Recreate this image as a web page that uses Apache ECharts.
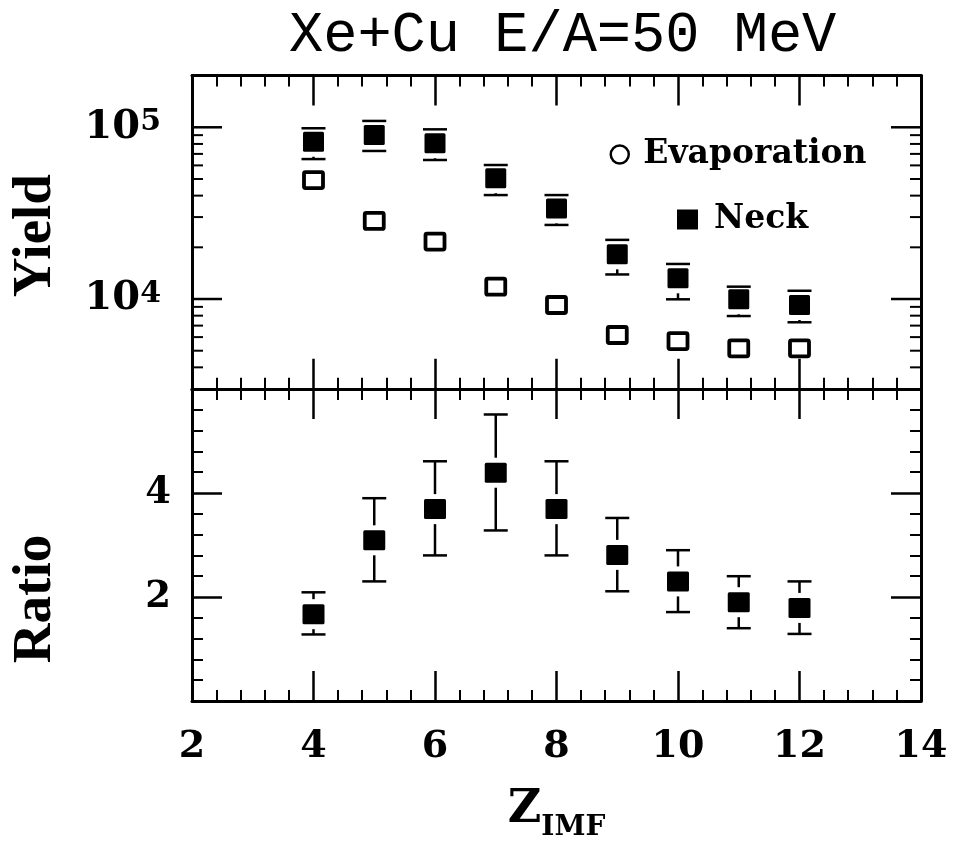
<!DOCTYPE html>
<html>
<head>
<meta charset="utf-8">
<script src="https://cdn.jsdelivr.net/npm/echarts@6/dist/echarts.min.js"></script>
<style>
  html, body { margin: 0; padding: 0; background: #fff; }
  #chart { width: 953px; height: 843px; }
</style>
</head>
<body>
<div id="chart"></div>
<script>
// IMF charge number
const zValues = [4, 5, 6, 7, 8, 9, 10, 11, 12];

// Neck emission yields with error-bar limits
const neckYield     = [82400, 90200, 80700, 50500, 33700, 18200, 13200, 9960, 9230];
const neckYieldLow  = [65300, 72800, 64500, 40300, 27000, 13900, 9960, 7960, 7320];
const neckYieldHigh = [98700, 108900, 97300, 60300, 40300, 22100, 16000, 11800, 11170];

// Evaporation yields
const evapYield = [49300, 28500, 21600, 11800, 9230, 6170, 5690, 5160, 5160];

// Neck / evaporation ratio with error-bar limits
const ratio     = [1.67, 3.09, 3.69, 4.39, 3.69, 2.81, 2.30, 1.90, 1.79];
const ratioLow  = [1.28, 2.30, 2.80, 3.28, 2.80, 2.11, 1.71, 1.40, 1.29];
const ratioHigh = [2.09, 3.90, 4.61, 5.51, 4.61, 3.52, 2.90, 2.40, 2.30];

// Axis ranges and tick labels
const xRange = [2, 14];
const xTickLabels = [2, 4, 6, 8, 10, 12, 14];
const yieldRange = [3000, 200000];
const yieldExponents = [4, 5];
const yieldMajorTicks = [10000, 100000];
const yieldMinorTicks = [4000, 5000, 6000, 7000, 8000, 9000,
                         20000, 30000, 40000, 50000, 60000, 70000, 80000, 90000];
const ratioRange = [0, 6];
const ratioTickLabels = [2, 4];

const SERIF = 'DejaVu Serif';
const BLACK = '#000';

const chart = echarts.init(document.getElementById('chart'), null, { renderer: 'canvas' });

function xAxisDef(gridIndex, position, showLabels, extra) {
  return Object.assign({
    type: 'value', gridIndex, position,
    min: xRange[0], max: xRange[1], interval: 2,
    axisLine: { show: true, onZero: false, lineStyle: { color: BLACK, width: 3 } },
    axisTick: { show: true, inside: true, length: 30, lineStyle: { color: BLACK, width: 2.5 } },
    minorTick: { show: true, splitNumber: 5, length: 11, lineStyle: { color: BLACK, width: 2 } },
    splitLine: { show: false }, minorSplitLine: { show: false },
    axisLabel: {
      show: showLabels, margin: 27, color: BLACK, fontFamily: SERIF, fontWeight: 'bold', fontSize: 38,
      formatter: v => xTickLabels.includes(v) ? String(v) : ''
    }
  }, extra || {});
}

function logAxisDef(position, showLabels, extra) {
  return Object.assign({
    type: 'log', logBase: 10, gridIndex: 0, position,
    min: yieldRange[0], max: yieldRange[1],
    axisLine: { show: true, onZero: false, lineStyle: { color: BLACK, width: 3 } },
    axisTick: { show: false }, minorTick: { show: false },
    splitLine: { show: false }, minorSplitLine: { show: false },
    axisLabel: {
      show: showLabels, margin: 31, color: BLACK,
      formatter: v => {
        const e = Math.round(Math.log10(v));
        return (Math.abs(Math.log10(v) - e) < 1e-6 && yieldExponents.includes(e)) ? '{b|10}{s|' + e + '}' : '';
      },
      rich: {
        b: { fontFamily: SERIF, fontWeight: 'bold', fontSize: 40, lineHeight: 40, verticalAlign: 'bottom', padding: [10, 0, 0, 0], color: BLACK },
        s: { fontFamily: SERIF, fontWeight: 'bold', fontSize: 30, lineHeight: 30, verticalAlign: 'top', color: BLACK }
      }
    }
  }, extra || {});
}

function ratioAxisDef(position, showLabels, extra) {
  return Object.assign({
    type: 'value', gridIndex: 1, position,
    min: ratioRange[0], max: ratioRange[1], interval: 2,
    axisLine: { show: true, onZero: false, lineStyle: { color: BLACK, width: 3 } },
    axisTick: { show: true, inside: true, length: 30, lineStyle: { color: BLACK, width: 2.5 } },
    minorTick: { show: true, splitNumber: 5, length: 11, lineStyle: { color: BLACK, width: 2 } },
    splitLine: { show: false }, minorSplitLine: { show: false },
    axisLabel: {
      show: showLabels, margin: 21, color: BLACK, fontFamily: SERIF, fontWeight: 'bold', fontSize: 37,
      formatter: v => ratioTickLabels.includes(v) ? String(v) : ''
    }
  }, extra || {});
}

// Filled square with vertical error bar; the bar stops short of the marker
function filledWithBars(hw, hh) {
  return function (params, api) {
    const x = api.value(0), v = api.value(1), lo = api.value(2), hi = api.value(3);
    const c = api.coord([x, v]);
    const yHi = api.coord([x, hi])[1];
    const yLo = api.coord([x, lo])[1];
    const cap = 12, gap = 5;
    const st = { stroke: BLACK, lineWidth: 2.5 };
    const children = [
      { type: 'line', shape: { x1: c[0] - cap, y1: yHi, x2: c[0] + cap, y2: yHi }, style: st },
      { type: 'line', shape: { x1: c[0] - cap, y1: yLo, x2: c[0] + cap, y2: yLo }, style: st }
    ];
    if (yHi < c[1] - hh - gap) {
      children.push({ type: 'line', shape: { x1: c[0], y1: yHi, x2: c[0], y2: c[1] - hh - gap }, style: st });
    }
    if (yLo > c[1] + hh + gap) {
      children.push({ type: 'line', shape: { x1: c[0], y1: c[1] + hh + gap, x2: c[0], y2: yLo }, style: st });
    }
    children.push({ type: 'rect', shape: { x: c[0] - hw, y: c[1] - hh, width: 2 * hw, height: 2 * hh, r: 1.5 }, style: { fill: BLACK } });
    return { type: 'group', children };
  };
}

function openSquare(params, api) {
  const c = api.coord([api.value(0), api.value(1)]);
  return {
    type: 'rect',
    shape: { x: c[0] - 9.5, y: c[1] - 8, width: 19, height: 16, r: 1.5 },
    style: { fill: '#fff', stroke: BLACK, lineWidth: 3.8 }
  };
}

// Inward ticks of the logarithmic yield axis, on both the left and right frame
function logTicks(params, api) {
  const v = api.value(1), major = api.value(2) === 1;
  const pl = api.coord([xRange[0], v]);
  const pr = api.coord([xRange[1], v]);
  const len = major ? 30 : 11;
  const st = { stroke: BLACK, lineWidth: major ? 2.5 : 2 };
  return {
    type: 'group',
    children: [
      { type: 'line', shape: { x1: pl[0], y1: pl[1], x2: pl[0] + len, y2: pl[1] }, style: st },
      { type: 'line', shape: { x1: pr[0] - len, y1: pr[1], x2: pr[0], y2: pr[1] }, style: st }
    ]
  };
}

const legendText = { fontFamily: SERIF, fontWeight: 'bold', fontSize: 33, color: BLACK };

const option = {
  animation: false,
  backgroundColor: '#fff',
  title: {
    text: 'Xe+Cu E/A=50 MeV',
    left: 284, top: 2,
    textStyle: { fontFamily: 'Liberation Mono', fontWeight: 'normal', fontSize: 57, color: BLACK }
  },
  legend: [
    {
      data: [{ name: 'Evaporation', icon: 'circle', itemStyle: { color: '#fff', borderColor: BLACK, borderWidth: 2.5 } }],
      left: 609.5, top: 138, padding: 0, itemWidth: 19, itemHeight: 18,
      selectedMode: false,
      textStyle: Object.assign({ padding: [0, 0, 0, 9] }, legendText)
    },
    {
      data: [{ name: 'Neck', icon: 'rect', itemStyle: { color: BLACK } }],
      left: 677, top: 203, padding: 0, itemWidth: 21, itemHeight: 20,
      selectedMode: false,
      textStyle: Object.assign({ padding: [0, 0, 0, 11] }, legendText)
    }
  ],
  grid: [
    { left: 191, width: 730, top: 75.6, height: 313.2 },
    { left: 191, width: 730, top: 389, height: 312 }
  ],
  xAxis: [
    xAxisDef(0, 'bottom', false),
    xAxisDef(0, 'top', false),
    xAxisDef(1, 'bottom', true, {
      name: '{z|Z}{s|IMF}',
      nameLocation: 'middle',
      nameGap: 86,
      nameTextStyle: {
        rich: {
          z: { fontFamily: SERIF, fontWeight: 'bold', fontSize: 46, lineHeight: 46, verticalAlign: 'top', color: BLACK },
          s: { fontFamily: SERIF, fontWeight: 'bold', fontSize: 28, lineHeight: 28, verticalAlign: 'top', padding: [27, 0, 0, 0], color: BLACK }
        }
      }
    }),
    xAxisDef(1, 'top', false)
  ],
  yAxis: [
    logAxisDef('left', true, {
      name: 'Yield', nameLocation: 'middle', nameRotate: 90, nameGap: 129,
      nameTextStyle: { fontFamily: 'Liberation Serif', fontWeight: 'bold', fontSize: 55, color: BLACK, padding: [0, 7, 0, 0] }
    }),
    logAxisDef('right', false),
    ratioAxisDef('left', true, {
      name: 'Ratio', nameLocation: 'middle', nameRotate: 90, nameGap: 129,
      nameTextStyle: { fontFamily: 'Liberation Serif', fontWeight: 'bold', fontSize: 55, color: BLACK, padding: [0, 108, 0, 0] }
    }),
    ratioAxisDef('right', false)
  ],
  series: [
    {
      name: 'yieldTicks', type: 'custom', xAxisIndex: 0, yAxisIndex: 0, silent: true, clip: false,
      renderItem: logTicks,
      data: yieldMajorTicks.map(v => [xRange[0], v, 1]).concat(yieldMinorTicks.map(v => [xRange[0], v, 0])),
      encode: { x: 0, y: 1 }
    },
    {
      name: 'Evaporation', type: 'custom', xAxisIndex: 0, yAxisIndex: 0, clip: false,
      itemStyle: { color: BLACK },
      renderItem: openSquare,
      data: zValues.map((z, i) => [z, evapYield[i]]),
      encode: { x: 0, y: 1 }
    },
    {
      name: 'Neck', type: 'custom', xAxisIndex: 0, yAxisIndex: 0, clip: false,
      itemStyle: { color: BLACK },
      renderItem: filledWithBars(10.5, 10),
      data: zValues.map((z, i) => [z, neckYield[i], neckYieldLow[i], neckYieldHigh[i]]),
      encode: { x: 0, y: 1 }
    },
    {
      name: 'Ratio', type: 'custom', xAxisIndex: 2, yAxisIndex: 2, clip: false,
      itemStyle: { color: BLACK },
      renderItem: filledWithBars(11, 10),
      data: zValues.map((z, i) => [z, ratio[i], ratioLow[i], ratioHigh[i]]),
      encode: { x: 0, y: 1 }
    }
  ]
};

chart.setOption(option);
</script>
</body>
</html>
